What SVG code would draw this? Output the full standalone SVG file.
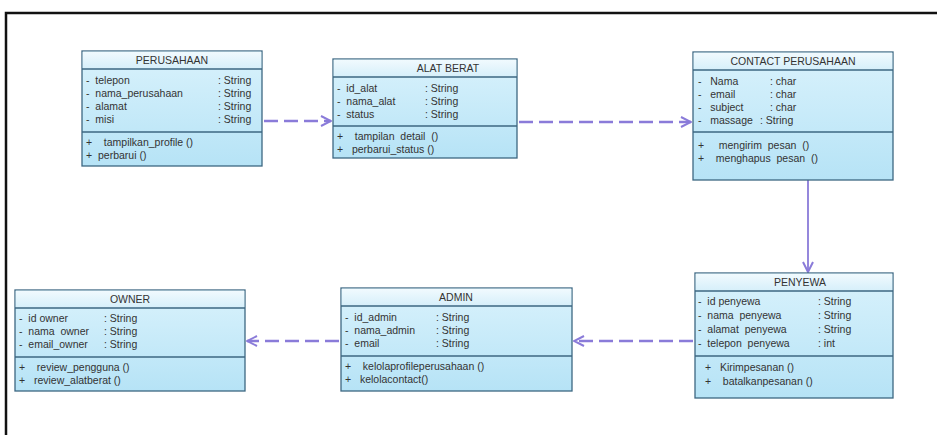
<svg xmlns="http://www.w3.org/2000/svg" width="937" height="435" viewBox="0 0 937 435">
<defs>
<linearGradient id="gBody" x1="0" y1="0" x2="0" y2="1">
<stop offset="0" stop-color="#d9f2fc"/>
<stop offset="1" stop-color="#b6e3f6"/>
</linearGradient>
<linearGradient id="gHead" x1="0" y1="0" x2="0" y2="1">
<stop offset="0" stop-color="#f1fafe"/>
<stop offset="1" stop-color="#d6effa"/>
</linearGradient>
<marker id="arr" viewBox="0 0 12 12" refX="11" refY="6" markerWidth="12" markerHeight="12" markerUnits="userSpaceOnUse" orient="auto">
<path d="M1,1 L11,6 L1,11" fill="none" stroke="#8a7bd9" stroke-width="2"/>
</marker>
<style>
.box{fill:url(#gBody);stroke:#3d6782;stroke-width:1.3}
.head{fill:url(#gHead);stroke:none}
.div{stroke:#3d6782;stroke-width:1.3}
text{font-family:"Liberation Sans",Arial,sans-serif;font-size:10.5px;fill:#333;white-space:pre}
.t{text-anchor:middle}
.dash{fill:none;stroke:#8a7bd9;stroke-width:2.5;stroke-dasharray:14 6}
.solid{fill:none;stroke:#8a7bd9;stroke-width:1.8}
</style>
</defs>
<rect width="937" height="435" fill="#ffffff"/>
<path d="M6,435 L6,13 L940,13" fill="none" stroke="#111" stroke-width="2.5"/>

<g id="connectors">
<line class="dash" x1="264" y1="121" x2="331" y2="121" marker-end="url(#arr)"/>
<line class="dash" x1="519" y1="122" x2="691" y2="122" marker-end="url(#arr)"/>
<line class="solid" x1="808" y1="180" x2="808" y2="272" marker-end="url(#arr)"/>
<line class="dash" x1="693" y1="341" x2="574" y2="341" marker-end="url(#arr)"/>
<line class="dash" x1="339" y1="341" x2="247" y2="341" marker-end="url(#arr)"/>
</g>

<g id="perusahaan">
<rect class="box" x="82" y="51" width="180" height="115"/>
<rect class="head" x="82.7" y="51.7" width="178.6" height="17"/>
<line class="div" x1="82" y1="69" x2="262" y2="69"/>
<line class="div" x1="82" y1="132" x2="262" y2="132"/>
<text class="t" x="172" y="64">PERUSAHAAN</text>
<text x="86" y="84">-  telepon</text><text x="218" y="84">: String</text>
<text x="86" y="97">-  nama_perusahaan</text><text x="218" y="97">: String</text>
<text x="86" y="110">-  alamat</text><text x="218" y="110">: String</text>
<text x="86" y="123">-  misi</text><text x="218" y="123">: String</text>
<text x="86" y="146">+    tampilkan_profile ()</text>
<text x="86" y="159">+  perbarui ()</text>
</g>

<g id="alat-berat">
<rect class="box" x="333" y="59" width="184" height="99"/>
<rect class="head" x="333.7" y="59.7" width="182.6" height="17"/>
<line class="div" x1="333" y1="77" x2="517" y2="77"/>
<line class="div" x1="333" y1="126" x2="517" y2="126"/>
<text class="t" x="448" y="72">ALAT BERAT</text>
<text x="337" y="92">-  id_alat</text><text x="425" y="92">: String</text>
<text x="337" y="105">-  nama_alat</text><text x="425" y="105">: String</text>
<text x="337" y="118">-  status</text><text x="425" y="118">: String</text>
<text x="337" y="140">+    tampilan  detail  ()</text>
<text x="337" y="153">+   perbarui_status ()</text>
</g>

<g id="contact-perusahaan">
<rect class="box" x="693" y="52" width="200" height="128"/>
<rect class="head" x="693.7" y="52.7" width="198.6" height="17"/>
<line class="div" x1="693" y1="70" x2="893" y2="70"/>
<line class="div" x1="693" y1="132" x2="893" y2="132"/>
<text class="t" x="793" y="65">CONTACT PERUSAHAAN</text>
<text x="698" y="85">-   Nama</text><text x="770" y="85">: char</text>
<text x="698" y="98">-   email</text><text x="770" y="98">: char</text>
<text x="698" y="111">-   subject</text><text x="770" y="111">: char</text>
<text x="698" y="124">-   massage</text><text x="760" y="124">: String</text>
<text x="698" y="149">+     mengirim  pesan  ()</text>
<text x="698" y="162">+    menghapus  pesan  ()</text>
</g>

<g id="penyewa">
<rect class="box" x="695" y="273" width="198" height="125"/>
<rect class="head" x="695.7" y="273.7" width="196.6" height="17"/>
<line class="div" x1="695" y1="291" x2="893" y2="291"/>
<line class="div" x1="695" y1="356" x2="893" y2="356"/>
<text class="t" x="800" y="286">PENYEWA</text>
<text x="698" y="305">-  id penyewa</text><text x="818" y="305">: String</text>
<text x="698" y="319">-  nama  penyewa</text><text x="818" y="319">: String</text>
<text x="698" y="333">-  alamat  penyewa</text><text x="818" y="333">: String</text>
<text x="698" y="347">-  telepon  penyewa</text><text x="818" y="347">: int</text>
<text x="705" y="371">+   Kirimpesanan ()</text>
<text x="705" y="385">+    batalkanpesanan ()</text>
</g>

<g id="admin">
<rect class="box" x="341" y="288" width="231" height="103"/>
<rect class="head" x="341.7" y="288.7" width="229.6" height="17"/>
<line class="div" x1="341" y1="306" x2="572" y2="306"/>
<line class="div" x1="341" y1="356" x2="572" y2="356"/>
<text class="t" x="456" y="301">ADMIN</text>
<text x="345" y="321">-  id_admin</text><text x="436" y="321">: String</text>
<text x="345" y="334">-  nama_admin</text><text x="436" y="334">: String</text>
<text x="345" y="347">-  email</text><text x="436" y="347">: String</text>
<text x="345" y="370">+    kelolaprofileperusahaan ()</text>
<text x="345" y="383">+   kelolacontact()</text>
</g>

<g id="owner">
<rect class="box" x="15" y="290" width="230" height="101"/>
<rect class="head" x="15.7" y="290.7" width="228.6" height="17"/>
<line class="div" x1="15" y1="308" x2="245" y2="308"/>
<line class="div" x1="15" y1="357" x2="245" y2="357"/>
<text class="t" x="130" y="303">OWNER</text>
<text x="19" y="322">-  id owner</text><text x="104" y="322">: String</text>
<text x="19" y="335">-  nama  owner</text><text x="104" y="335">: String</text>
<text x="19" y="348">-  email_owner</text><text x="104" y="348">: String</text>
<text x="19" y="371">+    review_pengguna ()</text>
<text x="19" y="384">+   review_alatberat ()</text>
</g>
</svg>
